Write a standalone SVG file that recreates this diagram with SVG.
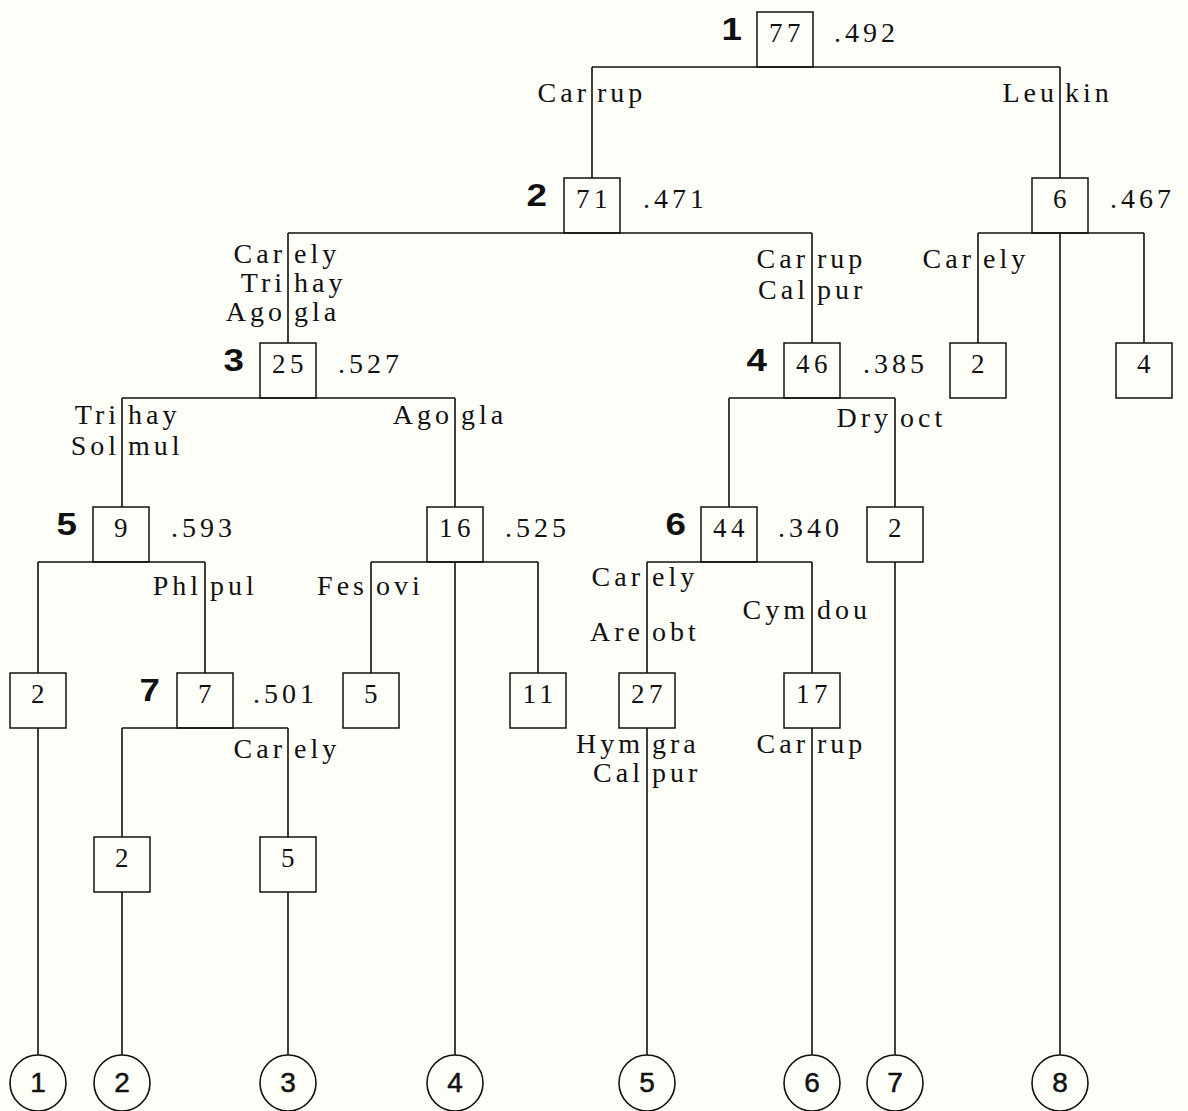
<svg xmlns="http://www.w3.org/2000/svg" width="1188" height="1111" viewBox="0 0 1188 1111">
<style>
.ln{stroke:#111;stroke-width:1.6;fill:none}
.bx{stroke:#111;stroke-width:1.5;fill:none}
.ci{stroke:#111;stroke-width:1.6;fill:none}
.t{font-family:"Liberation Serif","Times New Roman",serif;font-size:28px;letter-spacing:4px;fill:#111}
.num{font-family:"Liberation Serif","Times New Roman",serif;font-size:27px;letter-spacing:4.5px;fill:#111;text-anchor:middle}
.e{text-anchor:end}
.lv{font-family:"Liberation Sans",Arial,sans-serif;font-size:32px;font-weight:bold;fill:#111;text-anchor:end}
.cn{font-family:"Liberation Sans",Arial,sans-serif;font-size:28px;fill:#111;text-anchor:middle;stroke:#111;stroke-width:0.5}
</style>
<rect width="1188" height="1111" fill="#fefef9"/>
<g id="connectors">
<path class="ln" d="M592 67H1060M592 67V178M1060 67V178"/>
<path class="ln" d="M288 233H812M288 233V343M812 233V343"/>
<path class="ln" d="M978 233H1144M978 233V343M1144 233V343M1060 233V1055"/>
<path class="ln" d="M122 398H455M122 398V507M455 398V507"/>
<path class="ln" d="M729 398H895M729 398V507M895 398V507"/>
<path class="ln" d="M38 562H205M38 562V673M205 562V673"/>
<path class="ln" d="M371 562H538M371 562V673M538 562V673M455 562V1055"/>
<path class="ln" d="M647 562H812M647 562V673M812 562V673"/>
<path class="ln" d="M895 562V1055"/>
<path class="ln" d="M38 728V1055"/>
<path class="ln" d="M122 728H288M122 728V837M288 728V837"/>
<path class="ln" d="M122 892V1055M288 892V1055M647 728V1055M812 728V1055"/>
</g>
<g id="edge-labels">
<text class="t e" x="590" y="102">Car</text><text class="t" x="597" y="102">rup</text>
<text class="t e" x="1058" y="102">Leu</text><text class="t" x="1065" y="102">kin</text>
<text class="t e" x="286" y="263">Car</text><text class="t" x="294" y="263">ely</text>
<text class="t e" x="286" y="292">Tri</text><text class="t" x="294" y="292">hay</text>
<text class="t e" x="286" y="321">Ago</text><text class="t" x="294" y="321">gla</text>
<text class="t e" x="809" y="268">Car</text><text class="t" x="817" y="268">rup</text>
<text class="t e" x="809" y="299">Cal</text><text class="t" x="817" y="299">pur</text>
<text class="t e" x="975" y="268">Car</text><text class="t" x="983" y="268">ely</text>
<text class="t e" x="120" y="424">Tri</text><text class="t" x="128" y="424">hay</text>
<text class="t e" x="120" y="455">Sol</text><text class="t" x="128" y="455">mul</text>
<text class="t e" x="453" y="424">Ago</text><text class="t" x="461" y="424">gla</text>
<text class="t e" x="892" y="427">Dry</text><text class="t" x="900" y="427">oct</text>
<text class="t e" x="202" y="595">Phl</text><text class="t" x="210" y="595">pul</text>
<text class="t e" x="368" y="595">Fes</text><text class="t" x="376" y="595">ovi</text>
<text class="t e" x="644" y="586">Car</text><text class="t" x="652" y="586">ely</text>
<text class="t e" x="644" y="641">Are</text><text class="t" x="652" y="641">obt</text>
<text class="t e" x="809" y="619">Cym</text><text class="t" x="817" y="619">dou</text>
<text class="t e" x="644" y="753">Hym</text><text class="t" x="652" y="753">gra</text>
<text class="t e" x="644" y="782">Cal</text><text class="t" x="652" y="782">pur</text>
<text class="t e" x="809" y="753">Car</text><text class="t" x="817" y="753">rup</text>
<text class="t e" x="286" y="758">Car</text><text class="t" x="294" y="758">ely</text>
</g>
<g id="node1"><rect class="bx" x="757" y="12" width="56" height="55"/><text class="num" x="787" y="42">77</text><text class="lv" transform="translate(742,40) scale(1.15,1)">1</text><text class="t" x="834" y="42">.492</text></g>
<g id="node2"><rect class="bx" x="564" y="178" width="56" height="55"/><text class="num" x="594" y="208">71</text><text class="lv" transform="translate(547,206) scale(1.15,1)">2</text><text class="t" x="643" y="208">.471</text></g>
<g id="nodeR6"><rect class="bx" x="1032" y="178" width="56" height="55"/><text class="num" x="1062" y="208">6</text><text class="t" x="1110" y="208">.467</text></g>
<g id="node3"><rect class="bx" x="260" y="343" width="56" height="55"/><text class="num" x="290" y="373">25</text><text class="lv" transform="translate(244,371) scale(1.15,1)">3</text><text class="t" x="338" y="373">.527</text></g>
<g id="node4"><rect class="bx" x="784" y="343" width="56" height="55"/><text class="num" x="814" y="373">46</text><text class="lv" transform="translate(767,371) scale(1.15,1)">4</text><text class="t" x="863" y="373">.385</text></g>
<g id="nodeR2"><rect class="bx" x="950" y="343" width="56" height="55"/><text class="num" x="980" y="373">2</text></g>
<g id="nodeR4"><rect class="bx" x="1116" y="343" width="56" height="55"/><text class="num" x="1146" y="373">4</text></g>
<g id="node5"><rect class="bx" x="93" y="507" width="56" height="55"/><text class="num" x="123" y="537">9</text><text class="lv" transform="translate(77,535) scale(1.15,1)">5</text><text class="t" x="171" y="537">.593</text></g>
<g id="node16"><rect class="bx" x="427" y="507" width="56" height="55"/><text class="num" x="457" y="537">16</text><text class="t" x="505" y="537">.525</text></g>
<g id="node6"><rect class="bx" x="701" y="507" width="56" height="55"/><text class="num" x="731" y="537">44</text><text class="lv" transform="translate(686,535) scale(1.15,1)">6</text><text class="t" x="778" y="537">.340</text></g>
<g id="node2b"><rect class="bx" x="867" y="507" width="56" height="55"/><text class="num" x="897" y="537">2</text></g>
<g id="leaf2a"><rect class="bx" x="10" y="673" width="56" height="55"/><text class="num" x="40" y="703">2</text></g>
<g id="node7"><rect class="bx" x="177" y="673" width="56" height="55"/><text class="num" x="207" y="703">7</text><text class="lv" transform="translate(160,701) scale(1.15,1)">7</text><text class="t" x="253" y="703">.501</text></g>
<g id="leaf5a"><rect class="bx" x="343" y="673" width="56" height="55"/><text class="num" x="373" y="703">5</text></g>
<g id="leaf11"><rect class="bx" x="510" y="673" width="56" height="55"/><text class="num" x="540" y="703">11</text></g>
<g id="leaf27"><rect class="bx" x="619" y="673" width="56" height="55"/><text class="num" x="649" y="703">27</text></g>
<g id="leaf17"><rect class="bx" x="784" y="673" width="56" height="55"/><text class="num" x="814" y="703">17</text></g>
<g id="leaf2b"><rect class="bx" x="94" y="837" width="56" height="55"/><text class="num" x="124" y="867">2</text></g>
<g id="leaf5b"><rect class="bx" x="260" y="837" width="56" height="55"/><text class="num" x="290" y="867">5</text></g>
<g id="term1"><circle class="ci" cx="38" cy="1083" r="28"/><text class="cn" x="38" y="1092">1</text></g>
<g id="term2"><circle class="ci" cx="122" cy="1083" r="28"/><text class="cn" x="122" y="1092">2</text></g>
<g id="term3"><circle class="ci" cx="288" cy="1083" r="28"/><text class="cn" x="288" y="1092">3</text></g>
<g id="term4"><circle class="ci" cx="455" cy="1083" r="28"/><text class="cn" x="455" y="1092">4</text></g>
<g id="term5"><circle class="ci" cx="647" cy="1083" r="28"/><text class="cn" x="647" y="1092">5</text></g>
<g id="term6"><circle class="ci" cx="812" cy="1083" r="28"/><text class="cn" x="812" y="1092">6</text></g>
<g id="term7"><circle class="ci" cx="895" cy="1083" r="28"/><text class="cn" x="895" y="1092">7</text></g>
<g id="term8"><circle class="ci" cx="1060" cy="1083" r="28"/><text class="cn" x="1060" y="1092">8</text></g>
</svg>
